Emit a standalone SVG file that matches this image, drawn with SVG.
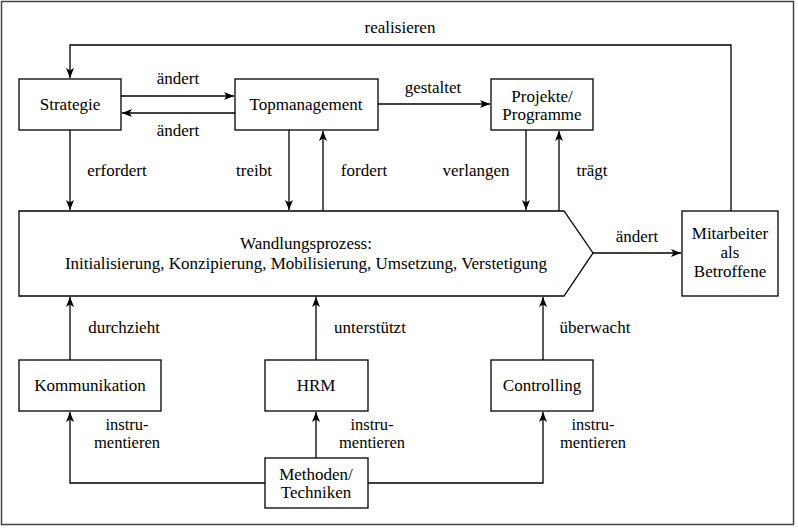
<svg xmlns="http://www.w3.org/2000/svg" width="798" height="528" viewBox="0 0 798 528">
<style>
.box{fill:#fff;stroke:#000;stroke-width:1.3}
.t{font-family:"Liberation Serif","Times New Roman",serif;font-size:17px;fill:#000;text-anchor:middle}
.s{font-size:16.5px}
.c{fill:none;stroke:#000;stroke-width:1.3}
</style>
<defs>
<marker id="a" viewBox="0 0 10 8" refX="10" refY="4" markerWidth="10" markerHeight="8" markerUnits="userSpaceOnUse" orient="auto">
<path d="M0,0 L10,4 L0,8 L2.5,4 z" fill="#000"/>
</marker>
</defs>
<rect x="1.5" y="1.5" width="792" height="523" fill="#fff" stroke="#444" stroke-width="1.5"/>
<g id="connectors">
<path class="c" d="M731,211 V45 H70 V78" marker-end="url(#a)"/>
<path class="c" d="M121,96 H234" marker-end="url(#a)"/>
<path class="c" d="M235,113 H122" marker-end="url(#a)"/>
<path class="c" d="M378,104 H490" marker-end="url(#a)"/>
<path class="c" d="M70,130 V210" marker-end="url(#a)"/>
<path class="c" d="M289,130 V210" marker-end="url(#a)"/>
<path class="c" d="M323,211 V131" marker-end="url(#a)"/>
<path class="c" d="M526,130 V210" marker-end="url(#a)"/>
<path class="c" d="M559,211 V131" marker-end="url(#a)"/>
<path class="c" d="M593,253 H681" marker-end="url(#a)"/>
<path class="c" d="M70,360 V297" marker-end="url(#a)"/>
<path class="c" d="M316,360 V297" marker-end="url(#a)"/>
<path class="c" d="M543,360 V297" marker-end="url(#a)"/>
<path class="c" d="M265,483 H70 V412" marker-end="url(#a)"/>
<path class="c" d="M316,458 V412" marker-end="url(#a)"/>
<path class="c" d="M368,483 H543 V412" marker-end="url(#a)"/>
<text class="t" x="400" y="33">realisieren</text>
<text class="t" x="178" y="84">ändert</text>
<text class="t" x="178" y="136">ändert</text>
<text class="t" x="433" y="93">gestaltet</text>
<text class="t" x="117" y="176">erfordert</text>
<text class="t" x="254" y="176">treibt</text>
<text class="t" x="364" y="176">fordert</text>
<text class="t" x="476" y="176">verlangen</text>
<text class="t" x="592" y="176">trägt</text>
<text class="t" x="637" y="242">ändert</text>
<text class="t" x="124" y="333">durchzieht</text>
<text class="t" x="370" y="333">unterstützt</text>
<text class="t" x="595" y="333">überwacht</text>
<text class="t s" x="127" y="430">instru-</text>
<text class="t s" x="127" y="448">mentieren</text>
<text class="t s" x="372" y="430">instru-</text>
<text class="t s" x="372" y="448">mentieren</text>
<text class="t s" x="593" y="430">instru-</text>
<text class="t s" x="593" y="448">mentieren</text>
</g>
<g id="strategie"><rect class="box" x="19" y="79" width="102" height="51"/><text class="t" x="70" y="110">Strategie</text></g>
<g id="topmanagement"><rect class="box" x="235" y="79" width="143" height="51"/><text class="t" x="306" y="110">Topmanagement</text></g>
<g id="projekte"><rect class="box" x="491" y="79" width="102" height="51"/><text class="t" x="542" y="102">Projekte/</text><text class="t" x="542" y="120">Programme</text></g>
<g id="wandlungsprozess"><path class="box" d="M19,211 H564 L593,253 L564,296 H19 Z"/><text class="t" x="306" y="249">Wandlungsprozess:</text><text class="t" x="306" y="269">Initialisierung, Konzipierung, Mobilisierung, Umsetzung, Verstetigung</text></g>
<g id="mitarbeiter"><rect class="box" x="682" y="211" width="96" height="85"/><text class="t" x="730" y="239">Mitarbeiter</text><text class="t" x="730" y="258">als</text><text class="t" x="730" y="277">Betroffene</text></g>
<g id="kommunikation"><rect class="box" x="19" y="360" width="142" height="51"/><text class="t" x="90" y="391">Kommunikation</text></g>
<g id="hrm"><rect class="box" x="265" y="360" width="103" height="51"/><text class="t" x="316" y="391">HRM</text></g>
<g id="controlling"><rect class="box" x="491" y="360" width="102" height="51"/><text class="t" x="542" y="391">Controlling</text></g>
<g id="methoden"><rect class="box" x="265" y="458" width="103" height="50"/><text class="t" x="316" y="480">Methoden/</text><text class="t" x="316" y="498">Techniken</text></g>
</svg>
